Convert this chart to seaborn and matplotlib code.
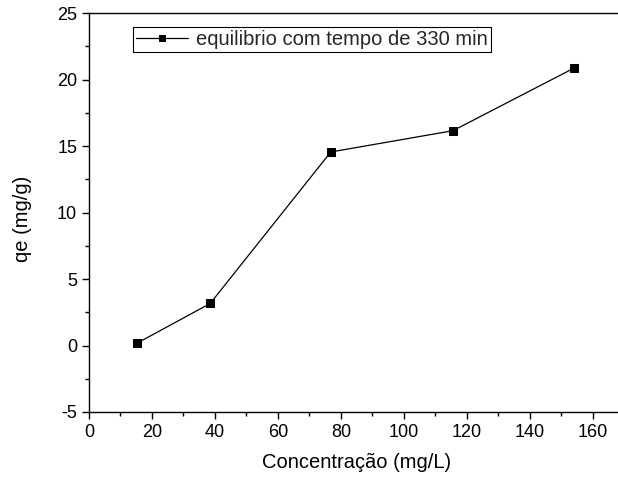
import matplotlib
matplotlib.use("Agg")
import matplotlib.pyplot as plt
import seaborn as sns
import pandas as pd

concentration = [15.3, 38.5, 76.8, 115.6, 154.0]
qe = [0.18, 3.16, 14.55, 16.15, 20.85]
series_label = "equilibrio com tempo de 330 min"

sns.set_theme(style="white")
plt.rcParams['font.family'] = ['Liberation Sans', 'DejaVu Sans']
plt.rcParams['axes.unicode_minus'] = False

df = pd.DataFrame({"x": concentration, "y": qe})

fig = plt.figure(figsize=(6.18, 4.84), dpi=100)
ax = fig.add_axes([89/618, 72/484, 1 - 89/618 + 0.01, (412-13)/484])

sns.lineplot(data=df, x="x", y="y", ax=ax, color="black", linewidth=0.9,
             marker="s", markersize=6, markeredgecolor="black",
             label=series_label)

ax.set_xlim(0, 170)
ax.set_ylim(-5, 25)
ax.set_xticks([0, 20, 40, 60, 80, 100, 120, 140, 160])
ax.set_yticks([-5, 0, 5, 10, 15, 20, 25])
ax.set_xticks(range(10, 170, 20), minor=True)
ax.set_yticks([-2.5, 2.5, 7.5, 12.5, 17.5, 22.5], minor=True)
ax.tick_params(which="major", direction="out", length=5, width=1, color="black",
               labelsize=13, labelcolor="black", bottom=True, left=True, top=False, right=False)
ax.tick_params(which="minor", direction="out", length=3, width=1, color="black",
               bottom=True, left=True, top=False, right=False)

for s in ["left", "bottom", "top"]:
    ax.spines[s].set_color("black")
    ax.spines[s].set_linewidth(1.0)
ax.spines["right"].set_visible(False)

ax.set_xlabel("Concentração (mg/L)", fontsize=14.5, color="black", labelpad=9)
ax.set_ylabel("qe (mg/g)", fontsize=14.5, color="black")
ax.yaxis.set_label_coords(-0.107, 0.484)

leg = ax.legend(loc="upper left", bbox_to_anchor=(0.082, 0.965), fontsize=14.5,
                frameon=True, fancybox=False, edgecolor="black", framealpha=1,
                borderpad=0.15, handlelength=2.6, handletextpad=0.4, borderaxespad=0,
                markerscale=0.8)
leg.get_frame().set_linewidth(0.8)

fig.savefig("out.png", dpi=100)
